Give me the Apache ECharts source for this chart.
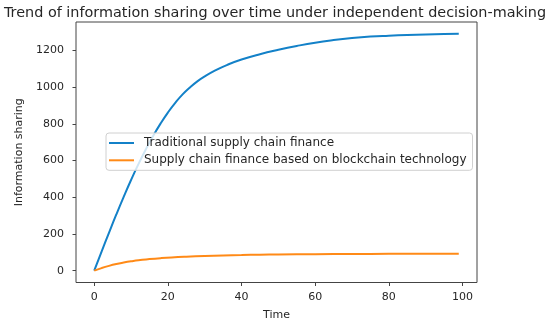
<!DOCTYPE html>
<html>
<head>
<meta charset="utf-8">
<script src="https://cdn.jsdelivr.net/npm/echarts@6/dist/echarts.min.js"></script>
<style>
  html, body { margin: 0; padding: 0; background: #fff; }
  #chart { width: 550px; height: 322px; }
</style>
</head>
<body>
<div id="chart"></div>
<script>
// values
const seriesNames = ["Traditional supply chain finance", "Supply chain finance based on blockchain technology"];
const blueX = [0, 2, 4, 6, 8, 10, 12, 14, 16, 18, 20, 22, 24, 26, 28, 30, 33, 36, 40, 45, 50, 55, 60, 65, 70, 75, 80, 85, 90, 95, 99];
const blueY = [0, 104, 206, 306, 402, 494, 580, 660, 734, 801, 861, 914, 960, 998, 1031, 1058, 1092, 1120, 1150, 1179, 1203, 1224, 1242, 1256, 1267, 1275, 1280, 1284, 1287, 1289, 1290];
const orangeX = [0, 2, 4, 6, 8, 10, 12, 15, 18, 21, 25, 30, 35, 40, 45, 50, 60, 70, 80, 90, 99];
const orangeY = [0, 14, 26, 36, 44, 51, 57, 63, 68, 72, 76, 80, 83, 85, 87, 88, 90, 91, 91.5, 92, 92];
const xTicks = [0, 20, 40, 60, 80, 100];
const yTicks = [0, 200, 400, 600, 800, 1000, 1200];

const font = "DejaVu Sans";
const ink = "#262626";

const pairs = (xs, ys) => xs.map((x, i) => [x, ys[i]]);

let chart = echarts.init(document.getElementById("chart"));
let option = {
  animation: false,
  textStyle: { fontFamily: font, color: ink },
  title: {
    text: "Trend of information sharing over time under independent decision-making",
    left: "center",
    top: 1,
    textStyle: { fontFamily: font, fontSize: 14.4, fontWeight: "normal", color: ink },
  },
  grid: {
    left: 76,
    right: 73,
    top: 22,
    bottom: 39.5,
    outerBoundsMode: "none",
    show: true,
    borderColor: "#444",
    borderWidth: 1,
    backgroundColor: "#fff",
  },
  legend: {
    orient: "vertical",
    left: 106,
    top: 133,
    padding: [3, 6, 3, 3],
    itemWidth: 25,
    itemHeight: 2,
    itemGap: 3.3,
    icon: "rect",
    backgroundColor: "rgba(255,255,255,0.8)",
    borderColor: "#d0d0d0",
    borderWidth: 1,
    borderRadius: 3,
    textStyle: { fontFamily: font, fontSize: 12, color: ink, lineHeight: 14, padding: [0, 0, 0, 5] },
    data: seriesNames,
  },
  xAxis: {
    type: "value",
    min: -4.95,
    max: 103.95,
    name: "Time",
    nameLocation: "middle",
    nameGap: 27,
    nameTextStyle: { fontFamily: font, fontSize: 11, color: ink },
    axisLine: { show: false, onZero: false },
    axisTick: { show: true, inside: false, length: 3.5, lineStyle: { color: "#444" }, customValues: xTicks },
    axisLabel: { fontFamily: font, fontSize: 11, color: ink, margin: 9, customValues: xTicks, formatter: (v) => String(v) },
    splitLine: { show: false },
  },
  yAxis: {
    type: "value",
    min: -64.5,
    max: 1354.5,
    name: "Information sharing",
    nameLocation: "middle",
    nameGap: 36,
    nameTextStyle: { fontFamily: font, fontSize: 11, color: ink },
    axisLine: { show: false, onZero: false },
    axisTick: { show: true, inside: false, length: 3.5, lineStyle: { color: "#444" }, customValues: yTicks },
    axisLabel: { fontFamily: font, fontSize: 11, color: ink, margin: 12, customValues: yTicks, formatter: (v) => String(v) },
    splitLine: { show: false },
  },
  series: [
    {
      name: seriesNames[0],
      type: "line",
      data: pairs(blueX, blueY),
      showSymbol: false,
      smooth: true,
      lineStyle: { color: "#1381c8", width: 2 },
      itemStyle: { color: "#1381c8" },
      z: 2,
    },
    {
      name: seriesNames[1],
      type: "line",
      data: pairs(orangeX, orangeY),
      showSymbol: false,
      smooth: true,
      lineStyle: { color: "#ff8a17", width: 2 },
      itemStyle: { color: "#ff8a17" },
      z: 2,
    },
  ],
};
chart.setOption(option);
</script>
</body>
</html>
